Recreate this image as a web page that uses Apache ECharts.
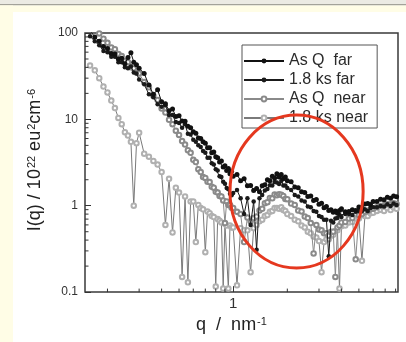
<!DOCTYPE html>
<html><head><meta charset="utf-8">
<script src="https://cdn.jsdelivr.net/npm/echarts@6/dist/echarts.min.js"></script>
<style>html,body{margin:0;padding:0;background:#fff}#c{width:406px;height:342px}</style>
</head><body><div id="c"></div>
<script>
// q values (nm^-1)
const q = [0.16,0.17,0.18,0.19,0.20,0.21,0.22,0.23,0.24,0.25,0.26,0.27,0.28,0.29,0.30,
  0.32,0.34,0.36,0.38,0.40,0.42,0.44,0.46,0.48,0.50,0.52,0.54,0.56,0.58,0.60,0.62,0.64,0.66,0.68,0.70,
  0.72,0.74,0.76,0.78,0.80,0.82,0.84,0.86,0.88,0.90,0.92,0.94,0.96,0.98,1.00,
  1.05,1.10,1.15,1.20,1.25,1.30,1.35,1.40,1.45,1.50,1.55,1.60,1.65,1.70,1.75,1.80,1.85,1.90,1.95,2.0,
  2.1,2.2,2.3,2.4,2.5,2.6,2.7,2.8,2.9,3.0,3.1,3.2,3.3,3.4,3.5,3.6,3.7,3.8,3.9,4.0,
  4.2,4.4,4.6,4.8,5.0,5.2,5.4,5.6,5.8,6.0,
  6.3,6.6,6.9,7.2,7.5,7.8,8.1];

const asQFar = [107,90,80,70,66,58,57,50,51,44,52,59,46,43,39,
  34,25,19.5,22,16,15.2,12.6,13.2,10.8,11.0,9.6,9.5,8.3,8.0,7.2,6.9,6.1,6.0,5.5,5.3,
  4.7,4.7,4.1,4.2,3.7,3.6,3.2,3.3,2.8,2.9,2.55,2.7,2.35,2.5,2.2,
  2.3,1.95,2.05,1.7,1.72,1.5,1.58,1.45,1.7,1.75,2.0,1.95,2.2,2.1,2.35,2.15,2.3,2.05,2.15,1.95,
  1.9,1.65,1.62,1.45,1.42,1.28,1.3,1.15,1.18,1.04,1.07,0.95,0.98,0.88,0.9,0.84,0.87,0.82,0.88,0.92,
  0.85,0.86,0.9,0.88,0.97,0.95,1.05,1.06,1.03,1.12,
  1.12,1.19,1.17,1.25,1.22,1.3,1.27];

const ks18Far = [92,80,72,62,60,53,53,46,46,40,39,41,35,34,29,
  25.5,19.5,18,15,14,14.6,11.2,11.2,9.3,9.1,8.0,8.8,6.8,6.7,5.8,5.5,5.0,4.8,4.3,4.1,
  3.6,3.6,3.1,3.0,2.65,2.55,2.2,2.15,1.9,1.8,1.6,1.55,1.38,1.32,1.4,
  1.52,1.22,0.8,1.22,0.6,1.12,0.31,1.22,1.33,1.5,1.56,1.73,1.72,1.88,1.86,1.78,1.93,1.72,1.72,1.6,
  1.52,1.33,1.28,1.15,1.12,0.98,0.96,0.87,0.85,0.76,0.74,0.69,0.69,0.26,0.67,0.64,0.71,0.72,0.78,0.74,
  0.8,0.8,0.78,0.85,0.87,0.87,0.91,0.87,0.94,0.96,
  0.96,0.99,0.98,1.04,0.99,1.06,1.02];

const asQNear = [130,115,99,86,77,68,65,57,54,47,46,40,39,35,34,
  27,23.5,18.8,16.8,13.4,12,9.9,8.8,7.4,6.6,5.6,5.1,4.4,4.1,3.4,3.2,2.65,2.45,2.15,2.1,
  1.9,1.88,1.66,1.62,1.45,1.42,1.3,1.28,1.15,0.63,1.12,1.02,1.02,0.95,0.94,
  0.85,0.8,0.38,0.73,0.66,0.72,0.75,0.88,0.92,1.07,1.1,1.23,1.22,1.35,1.32,1.36,1.34,1.3,1.2,1.19,
  1.06,1.02,0.88,0.86,0.75,0.72,0.63,0.28,0.6,0.53,0.52,0.48,0.48,0.45,0.5,0.5,0.15,0.56,0.59,0.64,
  0.65,0.71,0.72,0.24,0.78,0.8,0.85,0.87,0.91,0.92,
  0.96,0.99,1.01,1.04,1.04,1.07,1.05];

const ks18Near = [42,37,30,24,20.5,16.5,13.5,10.4,8.8,7.1,6.5,5.5,1.0,5.3,7.0,
  4.0,3.7,3.3,3.0,2.45,0.6,2.05,0.49,1.62,1.42,0.15,1.28,0.13,1.12,1.12,0.38,1.02,0.94,0.91,0.29,
  0.86,0.82,0.76,0.74,0.116,0.7,0.67,0.64,0.11,0.62,0.59,0.11,0.59,0.56,0.56,
  0.12,0.55,0.52,0.52,0.17,0.55,0.6,0.66,0.69,0.76,0.78,0.85,0.87,0.94,0.94,0.92,0.96,0.89,0.87,0.8,
  0.76,0.69,0.66,0.59,0.56,0.5,0.48,0.44,0.43,0.39,0.17,0.38,0.41,0.41,0.45,0.46,0.51,0.52,0.11,0.58,
  0.59,0.64,0.65,0.71,0.71,0.23,0.76,0.76,0.82,0.83,
  0.87,0.9,0.87,0.94,0.89,0.96,0.92];

const seriesNames = ['As Q  far', '1.8 ks far', 'As Q  near', '1.8 ks near'];
const yTickLabels = ['0.1', '1', '10', '100'];
const xTickLabels = ['1'];
const xMinorTicks = [0.2,0.3,0.4,0.5,0.6,0.7,0.8,0.9,2,3,4,5,6,7,8];
const yMinorTicks = [0.2,0.3,0.4,0.5,0.6,0.7,0.8,0.9,2,3,4,5,6,7,8,9,20,30,40,50,60,70,80,90];
// red annotation ellipse bounds in data space
const ellipseQ = [0.96, 5.28];
const ellipseI = [0.19, 11.2];

const X_MIN = 0.15, X_MAX = 8.25, Y_MIN = 0.1, Y_MAX = 100;
const FONT = '"Liberation Sans", Arial, sans-serif';
const pair = arr => q.map((x, i) => [x, arr[i]]);
const isDecade = v => Math.abs(Math.log10(v) - Math.round(Math.log10(v))) < 1e-6;

function minorTicks(values, dir) {
  return {
    type: 'custom', silent: true, z: 20, clip: false,
    data: values.map(v => dir === 'x' ? [v, Y_MIN] : [X_MIN, v]),
    renderItem: (p, api) => {
      const pt = api.coord([api.value(0), api.value(1)]);
      const L = 3.5;
      return {
        type: 'line',
        shape: dir === 'x' ? {x1: pt[0], y1: pt[1], x2: pt[0], y2: pt[1] - L}
                           : {x1: pt[0], y1: pt[1], x2: pt[0] + L, y2: pt[1]},
        style: {stroke: '#333', lineWidth: 1}
      };
    }
  };
}

const chart = echarts.init(document.getElementById('c'), null, {renderer: 'canvas', width: 406, height: 342});
const bg = [
  {id: 'bgTop', type: 'rect', z: -10, shape: {x: 0, y: 0, width: 406, height: 4}, style: {fill: '#ebeae3'}},
  {id: 'bgLine', type: 'rect', z: -10, shape: {x: 0, y: 4, width: 406, height: 1.5}, style: {fill: '#a3a299'}},
  {id: 'bgYel1', type: 'rect', z: -10, shape: {x: 0, y: 5.5, width: 406, height: 6.5}, style: {fill: '#fffde6'}},
  {id: 'bgYel2', type: 'rect', z: -10, shape: {x: 0, y: 5.5, width: 13, height: 337}, style: {fill: '#fffde6'}}
];

chart.setOption({
  animation: false,
  backgroundColor: '#fff',
  graphic: bg,
  grid: {left: 85, top: 33, right: 8, bottom: 40, show: true, borderColor: '#3a3a3a', borderWidth: 1.5, backgroundColor: 'transparent'},
  legend: {
    data: seriesNames, orient: 'vertical', left: 242, top: 45,
    itemWidth: 40, itemHeight: 6, itemGap: 3, padding: [8, 9, 2, 1],
    borderColor: '#555', borderWidth: 1, backgroundColor: '#fff',
    textStyle: {fontSize: 16, color: '#2b2b2b', fontFamily: FONT}
  },
  xAxis: {
    type: 'log', logBase: 10, min: X_MIN, max: X_MAX,
    axisLine: {show: false}, splitLine: {show: false},
    axisTick: {inside: true, length: 6, lineStyle: {color: '#333'}},
    axisLabel: {margin: 4, fontSize: 15, color: '#333', fontFamily: FONT,
      showMinLabel: false, showMaxLabel: false,
      formatter: v => isDecade(v) ? xTickLabels[xTickLabels.indexOf(String(+(+v).toPrecision(3)))] || '' : ''},
    name: 'q  /  nm{s|-1}', nameLocation: 'middle', nameGap: 14,
    nameTextStyle: {fontSize: 18, color: '#222', fontFamily: FONT, padding: [0, 20, 0, 0],
      rich: {s: {fontSize: 11, lineHeight: 11, verticalAlign: 'top', padding: [0, 0, 10, 1], color: '#222', fontFamily: FONT}}}
  },
  yAxis: {
    type: 'log', logBase: 10, min: Y_MIN, max: Y_MAX,
    axisLine: {show: false}, splitLine: {show: false},
    axisTick: {inside: true, length: 6, lineStyle: {color: '#333'}},
    axisLabel: {margin: 7, fontSize: 12, color: '#333', fontFamily: FONT,
      formatter: v => { const s = String(+(+v).toPrecision(3)); return yTickLabels.includes(s) ? s : ''; }},
    name: 'I(q) / 10{s|22} eu{s|2}cm{s|-6}', nameLocation: 'middle', nameGap: 40,
    nameTextStyle: {fontSize: 18, color: '#222', fontFamily: FONT, padding: [0, 0, 0, 5],
      rich: {s: {fontSize: 11, lineHeight: 11, verticalAlign: 'top', padding: [0, 0, 10, 1], color: '#222', fontFamily: FONT}}}
  },
  series: [
    {name: seriesNames[0], type: 'line', data: pair(asQFar), z: 6, symbol: 'circle', symbolSize: 5, showAllSymbol: true,
      lineStyle: {color: '#111', width: 1}, itemStyle: {color: '#111'}},
    {name: seriesNames[1], type: 'line', data: pair(ks18Far), z: 5, symbol: 'circle', symbolSize: 4.5, showAllSymbol: true,
      lineStyle: {color: '#1a1a1a', width: 1}, itemStyle: {color: '#1a1a1a'}},
    {name: seriesNames[2], type: 'line', data: pair(asQNear), z: 4, symbol: 'emptyCircle', symbolSize: 4.5, showAllSymbol: true,
      lineStyle: {color: '#8a8a8a', width: 1}, itemStyle: {color: '#8a8a8a', borderWidth: 1}},
    {name: seriesNames[3], type: 'line', data: pair(ks18Near), z: 3, symbol: 'emptyCircle', symbolSize: 4.5, showAllSymbol: true,
      lineStyle: {color: '#7a7a7a', width: 1}, itemStyle: {color: '#b0b0b0', borderWidth: 1}},
    minorTicks(xMinorTicks, 'x'),
    minorTicks(yMinorTicks, 'y')
  ]
});

const p0 = chart.convertToPixel({gridIndex: 0}, [ellipseQ[0], ellipseI[0]]);
const p1 = chart.convertToPixel({gridIndex: 0}, [ellipseQ[1], ellipseI[1]]);
chart.setOption({graphic: bg.concat([{
  id: 'ellipse', type: 'ellipse', z: 100,
  shape: {cx: (p0[0] + p1[0]) / 2, cy: (p0[1] + p1[1]) / 2, rx: Math.abs(p1[0] - p0[0]) / 2, ry: Math.abs(p1[1] - p0[1]) / 2},
  style: {fill: 'none', stroke: '#e5381f', lineWidth: 3}
}])});
</script>
</body></html>
